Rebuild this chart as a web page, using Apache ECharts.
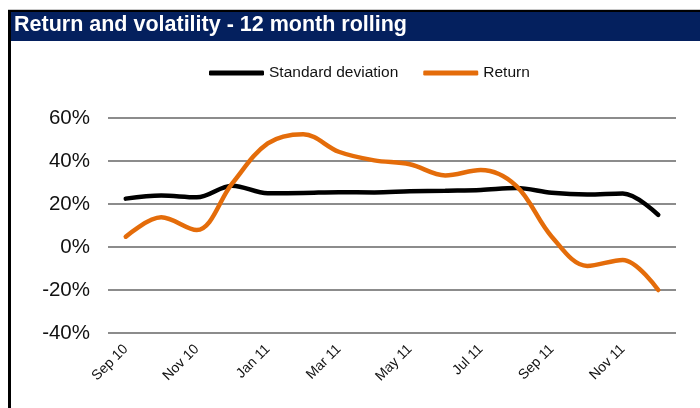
<!DOCTYPE html>
<html>
<head>
<meta charset="utf-8">
<script src="https://cdn.jsdelivr.net/npm/echarts@6/dist/echarts.min.js"></script>
<style>
  html, body { margin: 0; padding: 0; background: #fff; }
  #chart { width: 700px; height: 408px; }
</style>
</head>
<body>
<div id="chart"></div>
<script>
var months = ['Sep 10', 'Oct 10', 'Nov 10', 'Dec 10', 'Jan 11', 'Feb 11', 'Mar 11', 'Apr 11',
              'May 11', 'Jun 11', 'Jul 11', 'Aug 11', 'Sep 11', 'Oct 11', 'Nov 11', 'Dec 11'];
var stdDev = [22.5, 23.9, 23.1, 28.5, 25.0, 25.1, 25.5, 25.4, 25.9, 26.2, 26.5, 27.4, 25.2, 24.4, 24.9, 14.9];
var returns = [4.8, 13.8, 7.9, 29.6, 48.2, 52.5, 44.3, 40.3, 38.5, 33.3, 35.8, 28.4, 4.8, -8.8, -6.0, -20.0];
var yTicks = { min: -40, max: 60, step: 20 };

var chart = echarts.init(document.getElementById('chart'));

chart.setOption({
    animation: false,
    backgroundColor: '#fff',
    graphic: [
        { type: 'rect', shape: { x: 8, y: 9, width: 692, height: 1 }, style: { fill: '#c8c8c8' } },
        { type: 'rect', shape: { x: 8, y: 10, width: 692, height: 2 }, style: { fill: '#000' } },
        { type: 'rect', shape: { x: 11, y: 12, width: 689, height: 29 }, style: { fill: '#04205e' } },
        { type: 'rect', shape: { x: 8, y: 10, width: 3, height: 398 }, style: { fill: '#000' } }
    ],
    title: {
        text: 'Return and volatility - 12 month rolling',
        left: 14,
        top: 14,
        padding: 0,
        textStyle: {
            color: '#fff',
            fontFamily: 'Liberation Sans',
            fontWeight: 'bold',
            fontSize: 21.5
        }
    },
    legend: {
        top: 60,
        left: 204,
        itemWidth: 55,
        itemHeight: 5,
        itemGap: 25,
        icon: 'roundRect',
        textStyle: { fontFamily: 'Liberation Sans', fontSize: 15.5, color: '#111' },
        data: ['Standard deviation', 'Return']
    },
    grid: { left: 108, right: 24, top: 118, bottom: 75, containLabel: false },
    xAxis: {
        type: 'category',
        data: months,
        boundaryGap: true,
        axisLine: { show: false },
        axisTick: { show: false },
        axisLabel: {
            interval: 1,
            rotate: 45,
            margin: 14,
            fontFamily: 'Liberation Sans',
            fontSize: 14,
            color: '#111'
        }
    },
    yAxis: {
        type: 'value',
        min: yTicks.min,
        max: yTicks.max,
        interval: yTicks.step,
        axisLine: { show: false },
        axisTick: { show: false },
        axisLabel: {
            formatter: '{value}%',
            margin: 18,
            fontFamily: 'Liberation Sans',
            fontSize: 20.5,
            color: '#111'
        },
        splitLine: { lineStyle: { color: '#8c8c8c', width: 2 } }
    },
    series: [
        {
            name: 'Standard deviation',
            type: 'line',
            data: stdDev,
            smooth: 0.35,
            showSymbol: false,
            color: '#000',
            lineStyle: { width: 4.5, color: '#000', cap: 'round' }
        },
        {
            name: 'Return',
            type: 'line',
            data: returns,
            smooth: 0.35,
            showSymbol: false,
            color: '#e46c0a',
            lineStyle: { width: 4.5, color: '#e46c0a', cap: 'round' }
        }
    ]
});
</script>
</body>
</html>
